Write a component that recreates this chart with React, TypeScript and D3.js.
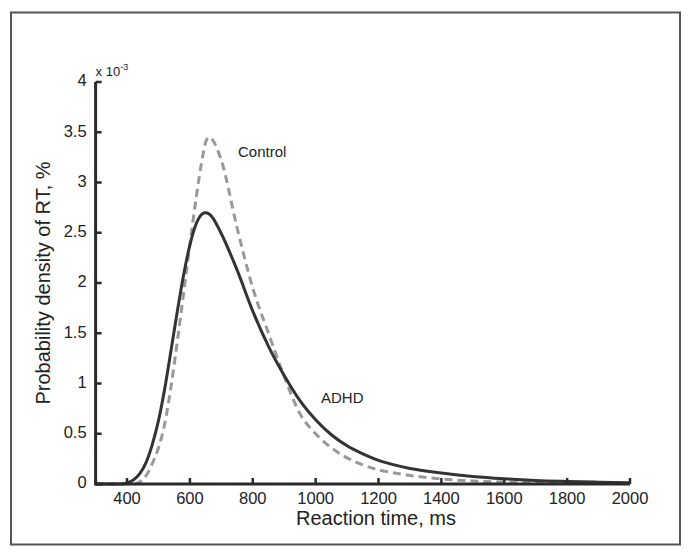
import React from "react";
import * as d3 from "d3";

const rtMs = [300, 380, 400, 420, 440, 460, 480, 500, 520, 540, 560, 580, 600, 620, 640, 650, 660, 670, 700, 750, 800, 850, 900, 950, 1000, 1050, 1100, 1150, 1200, 1250, 1300, 1400, 1500, 1600, 1700, 1800, 1900, 2000];
const adhd = [0, 0, 0.01, 0.04, 0.1, 0.21, 0.39, 0.63, 0.95, 1.33, 1.72, 2.08, 2.38, 2.59, 2.69, 2.70, 2.69, 2.66, 2.49, 2.13, 1.72, 1.37, 1.08, 0.83, 0.64, 0.49, 0.38, 0.3, 0.235, 0.19, 0.155, 0.11, 0.075, 0.052, 0.036, 0.026, 0.018, 0.012];
const control = [0, 0, 0, 0, 0.02, 0.08, 0.2, 0.36, 0.6, 0.97, 1.42, 1.9, 2.38, 2.85, 3.25, 3.4, 3.45, 3.43, 3.22, 2.55, 1.95, 1.5, 1.07, 0.7, 0.5, 0.36, 0.26, 0.19, 0.14, 0.11, 0.085, 0.05, 0.03, 0.02, 0.014, 0.01, 0.007, 0.005];
const xTicks = [400, 600, 800, 1000, 1200, 1400, 1600, 1800, 2000];
const yTicks = [0, 0.5, 1, 1.5, 2, 2.5, 3, 3.5, 4];

const W = 690, H = 558;
const FONT = "Liberation Sans, Arial, Helvetica, sans-serif";

export default function App() {
  const x = d3.scaleLinear().domain([300, 2000]).range([95.6, 630]);
  const y = d3.scaleLinear().domain([0, 4]).range([484, 82]);
  const line = d3
    .line<number>()
    .x((_, i) => x(rtMs[i]))
    .y((d) => y(d))
    .curve(d3.curveMonotoneX);
  const axisColor = "#2a2a2a";
  const textColor = "#222";
  return (
    <svg width={W} height={H} style={{ position: "absolute", left: 0, top: 0, background: "#fff" }}>
      <rect x={11} y={12.5} width={669} height={532} fill="#fff" stroke="#555" strokeWidth={2} />
      {/* curves */}
      <path d={line(control) || ""} fill="none" stroke="#999" strokeWidth={3} strokeDasharray="8 5" />
      <path d={line(adhd) || ""} fill="none" stroke="#333" strokeWidth={3} />
      {/* axes */}
      <line x1={x(300)} x2={x(2000)} y1={y(0)} y2={y(0)} stroke={axisColor} strokeWidth={3} />
      <line x1={x(300)} x2={x(300)} y1={y(0) + 1.5} y2={y(4)} stroke={axisColor} strokeWidth={3} />
      {xTicks.map((t) => (
        <g key={"xt" + t}>
          <line x1={x(t)} x2={x(t)} y1={y(0)} y2={y(0) - 6} stroke={axisColor} strokeWidth={2.5} />
          <text x={x(t)} y={y(0) + 16} textAnchor="middle" dominantBaseline="middle" fontSize={16.5} fontFamily={FONT} fill={textColor}>
            {t}
          </text>
        </g>
      ))}
      {yTicks.map((t) => (
        <g key={"yt" + t}>
          <line x1={x(300)} x2={x(300) + 6} y1={y(t)} y2={y(t)} stroke={axisColor} strokeWidth={2.5} />
          <text x={x(300) - 9} y={y(t)} textAnchor="end" dominantBaseline="middle" fontSize={16.5} fontFamily={FONT} fill={textColor}>
            {t}
          </text>
        </g>
      ))}
      <text x={x(300)} y={76} fontSize={13} fontFamily={FONT} fill={textColor}>
        x 10
        <tspan fontSize={9} dy={-6}>-3</tspan>
      </text>
      <text x={x(1192)} y={520} textAnchor="middle" dominantBaseline="middle" fontSize={20} fontFamily={FONT} fill={textColor}>
        Reaction time, ms
      </text>
      <text
        transform={`translate(45, ${y(2.0)}) rotate(-90)`}
        textAnchor="middle"
        dominantBaseline="middle"
        fontSize={20}
        fontFamily={FONT}
        fill={textColor}
      >
        Probability density of RT, %
      </text>
      <text x={238} y={157} fontSize={15} fontFamily={FONT} fill={textColor}>
        Control
      </text>
      <text x={321} y={403} fontSize={15} fontFamily={FONT} fill={textColor}>
        ADHD
      </text>
    </svg>
  );
}
